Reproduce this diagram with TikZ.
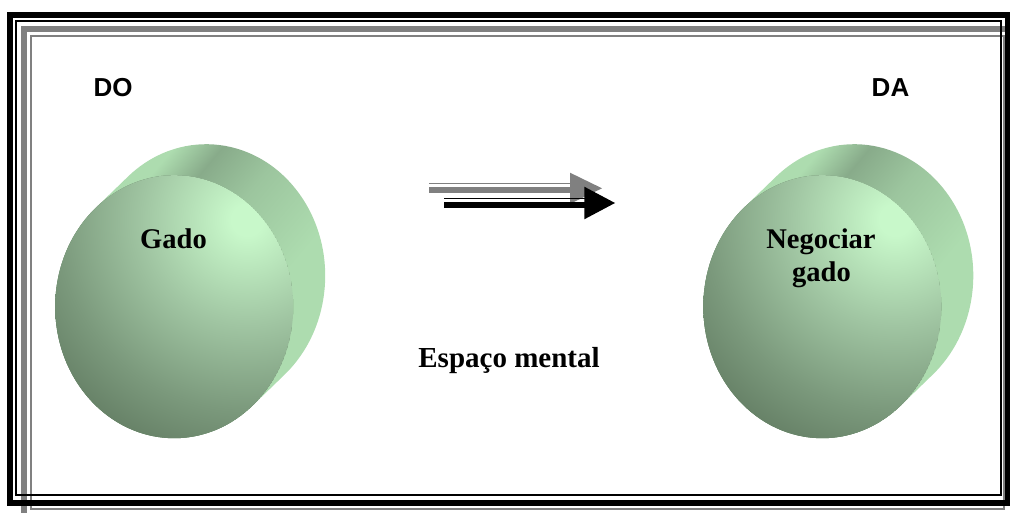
\documentclass[tikz,border=0pt]{standalone}
\usepackage{fontspec}
\setmainfont{Liberation Serif}
\setsansfont{Liberation Sans}
\usetikzlibrary{calc}

% disc colours
\definecolor{glowA}{HTML}{C8F8CA}
\definecolor{glowB}{HTML}{A0C5A2}
\definecolor{glowC}{HTML}{7B997C}
\definecolor{glowD}{HTML}{5E775E}
\definecolor{bodyL}{HTML}{ADDCAF}
\definecolor{bodyD}{HTML}{88AB8A}
\definecolor{bodyM}{HTML}{9CC59E}
\definecolor{linegray}{HTML}{808080}

% the middle 50bp of a shading is what covers the filled path
\pgfdeclareradialshading{frontglow}{\pgfpoint{0bp}{0bp}}{%
  color(0bp)=(glowA); color(1.5bp)=(glowA); color(10bp)=(glowB);
  color(18bp)=(glowC); color(25bp)=(glowD); color(50bp)=(glowD)}
\pgfdeclarehorizontalshading{bodysheen}{100bp}{%
  color(0bp)=(bodyL); color(33bp)=(bodyL); color(39bp)=(bodyD);
  color(47bp)=(bodyM); color(60bp)=(bodyL); color(100bp)=(bodyL)}

% an extruded disc: lighter body behind, shaded face in front
\newcommand{\extdisc}[2]{%
  \coordinate (#1f) at #2;
  \coordinate (#1b) at ($(#1f)+(32,-31)$);
  \coordinate (#1hl) at ($(#1f)+(73,-87)$);
  \shade[shading=bodysheen, shading angle=-40]
    ($(#1b)+(228.76:119 and 131.5)$)
      arc[start angle=228.76, end angle=408.76, x radius=119, y radius=131.5]
    -- ($(#1f)+(48.76:119 and 131.5)$)
      arc[start angle=48.76, end angle=228.76, x radius=119, y radius=131.5]
    -- cycle;
  \begin{scope}
    \clip (#1f) ellipse[x radius=119, y radius=131.5];
    \fill[glowD] (#1f) ellipse[x radius=119, y radius=131.5];
    \shade[shading=frontglow] (#1hl) circle (265);
  \end{scope}
}

\tikzset{
  heavyrule/.style={line width=6pt},
  lightrule/.style={line width=2pt},
  sidelabel/.style={font=\sffamily\bfseries\fontsize{26}{30}\selectfont, anchor=base, inner sep=0pt},
  disclabel/.style={font=\bfseries\fontsize{28.5}{32}\selectfont, anchor=base, inner sep=0pt},
}

\begin{document}
\begin{tikzpicture}[x=1pt, y=-1pt]
\useasboundingbox (0,0) rectangle (1010,513);

% grey shadow frame
\draw[heavyrule, linegray] (24,29) rectangle (1020,520);
\draw[lightrule, linegray] (31,36) rectangle (1003.5,509);

% black double frame
\draw[heavyrule, black] (10,15) rectangle (1007.5,502.5);
\draw[lightrule, black] (16,21.5) rectangle (1001,495);

% discs
\extdisc{L}{(174.2,306.7)}
\extdisc{R}{(822.3,306.7)}

% labels
\node[sidelabel] (do) at (113,97) {DO};
\node[sidelabel] (da) at (890.5,97) {DA};
\node[disclabel] (gado) at (173.5,249) {Gado};
\node[disclabel] (neg1) at (821,249) {Negociar};
\node[disclabel] (neg2) at (821.5,281.7) {gado};
\node[disclabel, font=\bfseries\fontsize{29}{32}\selectfont] (esp) at (509,367) {Espaço mental};

% grey arrow
\fill[linegray] (429,182.7) rectangle (572,184.3);
\fill[linegray] (429,186.7) rectangle (572,193.3);
\fill[linegray] (570,172.7) -- (602,188.3) -- (570,203.9) -- cycle;

% black arrow
\fill[black] (444,197.7) rectangle (586,199.3);
\fill[black] (444,201.7) rectangle (586,208.3);
\fill[black] (584.3,186.7) -- (615,203) -- (584.3,219.3) -- cycle;
\end{tikzpicture}
\end{document}
